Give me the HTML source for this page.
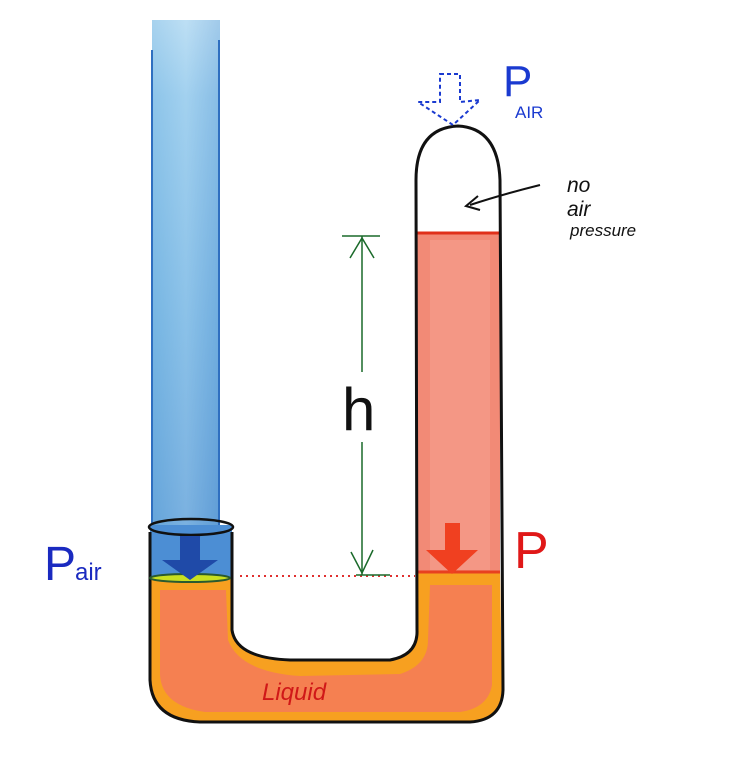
<!DOCTYPE html>
<html><head><meta charset="utf-8"><style>html,body{margin:0;padding:0;background:#fff}svg{display:block}</style></head>
<body>
<svg width="736" height="768" viewBox="0 0 736 768" xmlns="http://www.w3.org/2000/svg">
<defs>
<linearGradient id="bl" x1="0" y1="0" x2="0" y2="1">
<stop offset="0" stop-color="#d4ecf8"/><stop offset="0.15" stop-color="#9fd0ee"/><stop offset="0.6" stop-color="#6fb0e0"/><stop offset="1" stop-color="#4f90d0"/></linearGradient>
<linearGradient id="bs" x1="0" y1="0" x2="1" y2="0">
<stop offset="0" stop-color="#7ab8e4"/><stop offset="0.5" stop-color="#a6d2f0"/><stop offset="1" stop-color="#6ea8dc"/></linearGradient>
</defs>
<!-- blue air column -->
<rect x="152" y="20" width="68" height="510" fill="url(#bl)"/>
<rect x="152" y="20" width="68" height="510" fill="url(#bs)" opacity="0.5"/>
<line x1="152" y1="50" x2="152" y2="525" stroke="#2f6fc0" stroke-width="2"/>
<line x1="219" y1="40" x2="219" y2="525" stroke="#2f6fc0" stroke-width="2"/>
<rect x="150" y="525" width="82" height="52" fill="#4c8ed4"/>
<!-- liquid U -->
<path d="M150 577 L232 577 L232 630 Q236 658 290 660 L390 660 Q418 655 418 630 L418 570 L500 570 L502 690 Q500 720 470 722 L200 722 Q152 720 150 680 Z" fill="#f7a020"/>
<path d="M160 590 L226 590 L228 640 Q240 672 300 676 L400 674 Q428 665 428 640 L430 585 L492 585 L492 685 Q488 708 460 712 L205 712 Q162 706 160 675 Z" fill="#f47a5a" opacity="0.85"/>
<!-- red column -->
<rect x="417" y="232" width="83" height="340" fill="#f28a76"/>
<rect x="430" y="240" width="60" height="330" fill="#f5a090" opacity="0.6"/>
<line x1="417" y1="233" x2="500" y2="233" stroke="#e0301a" stroke-width="3"/>
<line x1="417" y1="572" x2="500" y2="572" stroke="#e84020" stroke-width="3"/>
<!-- outlines -->
<path d="M150 532 L150 680 Q152 720 200 722 L470 722 Q502 720 503 690 L500 180 Q498 128 458 126 Q416 128 416 180 L417 630 Q418 655 390 660 L290 660 Q236 658 232 630 L232 532" fill="none" stroke="#111" stroke-width="3"/>
<ellipse cx="191" cy="527" rx="42" ry="8" fill="none" stroke="#111" stroke-width="2.5"/>
<ellipse cx="190" cy="578" rx="40" ry="4" fill="#c8e020" stroke="#2a5a30" stroke-width="2"/>
<!-- blue arrow -->
<path d="M180 536 L200 536 L200 560 L218 560 L190 580 L162 560 L180 560 Z" fill="#1f4aa8"/>
<!-- red arrow -->
<path d="M445 523 L460 523 L460 550 L478 550 L452 574 L426 550 L445 550 Z" fill="#f04020"/>
<!-- dotted level line -->
<line x1="240" y1="576" x2="415" y2="576" stroke="#e03030" stroke-width="2" stroke-dasharray="2 4"/>
<!-- h dimension -->
<line x1="362" y1="236" x2="362" y2="575" stroke="#1a6a2a" stroke-width="1.5"/>
<line x1="342" y1="236" x2="380" y2="236" stroke="#1a6a2a" stroke-width="1.5"/>
<line x1="356" y1="575" x2="390" y2="575" stroke="#1a6a2a" stroke-width="1.5"/>
<path d="M350 258 L362 238 L374 258" fill="none" stroke="#1a6a2a" stroke-width="1.5"/>
<path d="M351 552 L362 573 L373 550" fill="none" stroke="#1a6a2a" stroke-width="1.5"/>
<rect x="340" y="372" width="44" height="70" fill="#fff"/>
<text x="342" y="430" font-family="Liberation Sans, sans-serif" font-size="60" fill="#111">h</text>
<!-- top arrow dashed -->
<path d="M440 74 L460 74 L460 102 L480 100 L453 125 L418 102 L440 102 Z" fill="none" stroke="#1a3ad0" stroke-width="2" stroke-dasharray="4 3"/>
<text x="503" y="96" font-family="Liberation Sans, sans-serif" font-size="44" fill="#1a3ad0">P</text>
<text x="515" y="118" font-family="Liberation Sans, sans-serif" font-size="17" fill="#1a3ad0">AIR</text>
<!-- no air pressure -->
<path d="M540 185 Q500 195 470 205" fill="none" stroke="#111" stroke-width="2"/>
<path d="M478 196 L466 206 L480 210" fill="none" stroke="#111" stroke-width="2"/>
<text x="567" y="192" font-family="Liberation Sans, sans-serif" font-size="21" fill="#111" font-style="italic">no</text>
<text x="567" y="216" font-family="Liberation Sans, sans-serif" font-size="21" fill="#111" font-style="italic">air</text>
<text x="570" y="236" font-family="Liberation Sans, sans-serif" font-size="17" fill="#111" font-style="italic">pressure</text>
<!-- labels -->
<text x="44" y="580" font-family="Liberation Sans, sans-serif" font-size="48" fill="#1a2ac0">P</text>
<text x="75" y="580" font-family="Liberation Sans, sans-serif" font-size="24" fill="#1a2ac0">air</text>
<text x="514" y="568" font-family="Liberation Sans, sans-serif" font-size="52" fill="#e01818">P</text>
<text x="262" y="700" font-family="Liberation Sans, sans-serif" font-size="24" fill="#d01818" font-style="italic">Liquid</text>
</svg>
</body></html>
